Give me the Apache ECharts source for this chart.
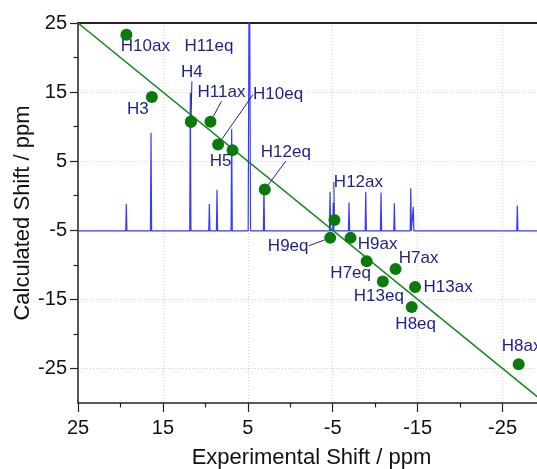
<!DOCTYPE html>
<html>
<head>
<meta charset="utf-8">
<script src="https://cdn.jsdelivr.net/npm/echarts@6.0.0/dist/echarts.min.js"></script>
<style>
  html, body { margin: 0; padding: 0; background: #fff; }
  #chart { width: 537px; height: 469px; }
</style>
</head>
<body>
<div id="chart"></div>
<script>
// assigned protons: experimental vs calculated shift (ppm)
const labels = ['H10ax', 'H3', 'H11eq', 'H4', 'H11ax', 'H10eq', 'H5', 'H12eq', 'H12ax',
  'H9eq', 'H9ax', 'H7eq', 'H7ax', 'H13eq', 'H13ax', 'H8eq', 'H8ax']
const expShift = [19.3, 16.3, 11.7, 11.7, 9.4, 8.5, 6.8, 3.0, -5.2,
  -4.7, -7.1, -9.0, -12.4, -10.9, -14.7, -14.3, -26.9]
const calcShift = [23.3, 14.3, 10.7, 10.7, 10.7, 7.4, 6.6, 0.9, -3.5,
  -6.1, -6.1, -9.5, -10.6, -12.4, -13.2, -16.1, -24.4]

// y = x reference line
const fitX = [25, -30]

// spectrum drawn along the bottom (peak position / peak top on the y scale)
const peakPos = [19.31, 16.4, 11.77, 9.53, 8.63, 6.9, 4.82, 3.1, -4.68,
  -5.07, -6.92, -8.89, -10.69, -12.26, -14.19, -14.49, -26.74]
const peakTop = [-1.2, 9.1, 14.9, -1.2, 0.85, 9.7, 40, 1.0, 0.56,
  -0.97, -0.97, 0.57, 0.47, -1.1, 1.08, -1.6, -1.4]
const baseline = -5.1

const majorTicks = [25, 15, 5, -5, -15, -25]
const minorTicks = [20, 10, 0, -10, -20]

// label placement (px from the point centre), layout only
const labelOffset = {
  H10ax: [19, 12], H3: [-14, 12], H11eq: [18, -75], H4: [1, -49], H11ax: [11, -29],
  H10eq: [60, -50], H5: [-12, 11], H12eq: [21, -37], H12ax: [24, -38], H9eq: [-42, 8],
  H9ax: [27, 6], H7eq: [-16, 12], H7ax: [23, -11], H13eq: [-4, 15], H13ax: [33, 0],
  H8eq: [4, 17], H8ax: [3, -18]
}
const withLeader = ['H4', 'H11ax', 'H10eq', 'H12eq', 'H12ax', 'H9eq']

const FONT = '"Liberation Sans", Arial, sans-serif'
const INK = '#1f1f8a'

const spectrum = [[25, baseline]]
peakPos.forEach((p, i) => {
  const w = peakTop[i] > 20 ? 0.14 : 0.07
  spectrum.push([p + w, baseline], [p, peakTop[i]], [p - w, baseline])
})
spectrum.push([-30, baseline])

const points = labels.map((name, i) => ({
  name,
  value: [expShift[i], calcShift[i]],
  labelLine: { show: withLeader.includes(name) }
}))

function valueAxis(extra) {
  return Object.assign({
    type: 'value', min: -30, max: 25,
    axisLine: { show: false, onZero: false },
    axisTick: { show: false },
    axisLabel: { show: false },
    splitLine: { show: false }
  }, extra)
}

const gridStyle = { color: '#d2d2d2', type: [1, 2], width: 1 }

const chart = echarts.init(document.getElementById('chart'), null, { renderer: 'canvas' })
chart.setOption({
  animation: false,
  grid: { left: 78, top: 23, right: -8, bottom: 66, containLabel: false, outerBoundsMode: 'none' },
  xAxis: [
    valueAxis({
      inverse: true, position: 'bottom',
      name: 'Experimental Shift / ppm', nameLocation: 'middle', nameGap: 44,
      nameTextStyle: { fontFamily: FONT, fontSize: 22, color: '#111' },
      axisLine: { show: true, onZero: false, lineStyle: { color: '#222', width: 1.5 } },
      axisTick: { show: true, customValues: majorTicks, length: 9, lineStyle: { color: '#222', width: 1.2 } },
      axisLabel: { show: true, customValues: majorTicks, margin: 15, fontFamily: FONT, fontSize: 20, color: '#111' },
      splitLine: { show: true, lineStyle: gridStyle }
    }),
    valueAxis({
      inverse: true, position: 'bottom',
      axisTick: { show: true, customValues: minorTicks, length: 4.5, lineStyle: { color: '#222', width: 1.2 } }
    }),
    valueAxis({
      inverse: true, position: 'top',
      axisLine: { show: true, onZero: false, lineStyle: { color: '#222', width: 2 } }
    })
  ],
  yAxis: [
    valueAxis({
      position: 'left',
      name: 'Calculated Shift / ppm', nameLocation: 'middle', nameGap: 44, nameMoveOverlap: false,
      nameTextStyle: { fontFamily: FONT, fontSize: 22, color: '#111' },
      axisLine: { show: true, onZero: false, lineStyle: { color: '#222', width: 1.5 } },
      axisTick: { show: true, customValues: majorTicks, length: 8, lineStyle: { color: '#222', width: 1.2 } },
      axisLabel: { show: true, customValues: majorTicks, margin: 11, fontFamily: FONT, fontSize: 20, color: '#111' },
      splitLine: { show: true, lineStyle: gridStyle }
    }),
    valueAxis({
      position: 'left',
      axisTick: { show: true, customValues: minorTicks, length: 4.5, lineStyle: { color: '#222', width: 1.2 } }
    })
  ],
  series: [
    {
      name: 'spectrum', type: 'line', xAxisIndex: 0, yAxisIndex: 0,
      data: spectrum, showSymbol: false, symbol: 'none', clip: true, z: 1,
      lineStyle: { color: '#3a3aff', width: 1.2 }
    },
    {
      name: 'y = x', type: 'line', xAxisIndex: 0, yAxisIndex: 0,
      data: fitX.map(v => [v, v]), symbol: 'none', clip: true, z: 2,
      lineStyle: { color: '#12851a', width: 1.6 }
    },
    {
      name: 'shifts', type: 'scatter', xAxisIndex: 0, yAxisIndex: 0,
      data: points, symbolSize: 12, z: 3,
      itemStyle: { color: '#0b7a0b', opacity: 1 },
      label: {
        show: true, position: 'inside', formatter: '{b}',
        fontFamily: FONT, fontSize: 17, color: INK
      },
      labelLine: { show: false, lineStyle: { color: INK, width: 1 } },
      labelLayout: function (params) {
        const off = labelOffset[labels[params.dataIndex]] || [0, 0]
        return { dx: off[0], dy: off[1] }
      }
    }
  ]
})
</script>
</body>
</html>
